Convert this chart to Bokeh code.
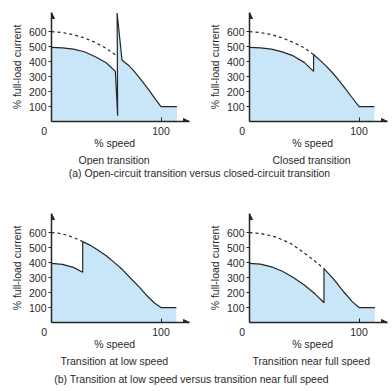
from bokeh.plotting import figure
from bokeh.layouts import column, row
from bokeh.models import Range1d, FixedTicker, Arrow, NormalHead, Title
from bokeh.embed import file_html
from bokeh.resources import INLINE
from bokeh.core.properties import value

# ---------------- data ----------------
Y_TICKS = [100, 200, 300, 400, 500, 600]
X_TICKS = [0, 100]
X_TICK_LABELS = ["0", "100"]
X_LABEL = "% speed"
Y_LABEL = "% full-load current"

SUBTITLES = ["Open transition", "Closed transition",
             "Transition at low speed", "Transition near full speed"]
CAPTION_A = "(a) Open-circuit transition versus closed-circuit transition"
CAPTION_B = "(b) Transition at low speed versus transition near full speed"

# (a) open transition
open_speed = [0, 10, 20, 30, 40, 50, 58.3, 60.4, 59.9, 64.4, 70, 75, 80, 85, 90, 95, 100, 114.5]
open_current = [495, 492, 483, 466, 432, 392, 335, 38, 725, 409, 378, 340, 295, 248, 200, 148, 100, 100]
open_dash_speed = [0, 10, 20, 30, 40, 50, 59.2]
open_dash_current = [600, 594, 580, 558, 528, 488, 441]

# (a) closed transition
closed_speed = [0, 10, 20, 30, 40, 50, 58.5, 58.5, 65, 70, 76, 82, 88, 94, 100, 114]
closed_current = [495, 492, 483, 465, 438, 395, 335, 447, 405, 370, 324, 272, 214, 157, 100, 100]
closed_dash_speed = [0, 10, 20, 30, 40, 50, 58.5]
closed_dash_current = [600, 594, 580, 558, 528, 492, 447]

# (b) transition at low speed
low_speed = [0, 10, 20, 28.5, 28.5, 35, 41.6, 50, 57, 65, 72, 80, 87, 94, 100, 114]
low_current = [395, 388, 368, 335, 540, 517, 488, 446, 403, 352, 297, 238, 180, 130, 100, 100]
low_dash_speed = [0, 7, 14.3, 21, 28.5]
low_dash_current = [600, 596, 583, 565, 540]

# (b) transition near full speed
full_speed = [0, 10, 20, 30, 40, 50, 60, 68, 68, 77.2, 86.4, 94, 100, 114.5]
full_current = [395, 390, 372, 342, 300, 250, 190, 132, 360, 286, 202, 138, 100, 100]
full_dash_speed = [0, 10, 23.8, 37.6, 49.7, 58, 68]
full_dash_current = [600, 595, 572, 528, 466, 420, 360]

# ---------------- style ----------------
FONT = "Liberation Sans"
FS = "10.5px"
TXT = "#2a2a2a"
INK = "#262626"
FILL = "#c8e6f7"
X_END = 126
Y_END = 728
NBSP = "\u00a0"
SUB_OFFSETS = [27, 23, 9, 3]          # left offset (px) of each sub-caption from the frame
ORIGIN_PAD = 5                        # pads the origin label so that it sits left of the axis
XLABEL_PAD = 4                        # shifts "% speed" slightly left of frame centre


def panel(width, left, right, height, top, bottom, sx, sy, dx, dy, subtitle, sub_off):
    p = figure(width=width, height=height,
               x_range=Range1d(0, X_END), y_range=Range1d(0, Y_END),
               toolbar_location=None, output_backend="svg",
               min_border_left=left, min_border_right=right,
               min_border_top=top, min_border_bottom=bottom)
    p.outline_line_color = None
    p.grid.visible = False
    p.background_fill_color = "white"
    p.border_fill_color = "white"

    p.patch(sx + [sx[-1], sx[0]], sy + [0, 0], fill_color=FILL, line_color=None)
    p.line(dx, dy, line_color=INK, line_width=1.2, line_dash="3 3")
    p.line(sx, sy, line_color=INK, line_width=1.2)

    ax = p.xaxis[0]
    ax.ticker = FixedTicker(ticks=X_TICKS)
    labels = {}
    for t, s in zip(X_TICKS, X_TICK_LABELS):
        labels[t] = s + NBSP * ORIGIN_PAD if t == 0 else s
    ax.major_label_overrides = labels
    ax.axis_line_color = INK
    ax.axis_line_width = 1.5
    ax.major_tick_in = 4
    ax.major_tick_out = 0
    ax.major_tick_line_color = INK
    ax.minor_tick_line_color = None
    ax.major_label_standoff = 3
    ax.major_label_text_font = FONT
    ax.major_label_text_font_size = FS
    ax.major_label_text_color = TXT
    ax.axis_label = X_LABEL + NBSP * XLABEL_PAD
    ax.axis_label_standoff = -3
    ax.axis_label_text_font = FONT
    ax.axis_label_text_font_size = FS
    ax.axis_label_text_font_style = "normal"
    ax.axis_label_text_color = TXT

    ay = p.yaxis[0]
    ay.ticker = FixedTicker(ticks=Y_TICKS)
    ay.axis_line_color = INK
    ay.axis_line_width = 1.5
    ay.major_tick_in = 0
    ay.major_tick_out = 3
    ay.major_tick_line_color = INK
    ay.minor_tick_line_color = None
    ay.major_label_standoff = 2
    ay.major_label_text_font = FONT
    ay.major_label_text_font_size = FS
    ay.major_label_text_color = TXT
    ay.axis_label = Y_LABEL
    ay.axis_label_standoff = 3
    ay.axis_label_text_font = FONT
    ay.axis_label_text_font_size = FS
    ay.axis_label_text_font_style = "normal"
    ay.axis_label_text_color = TXT

    head = dict(size=6, fill_color=INK, line_color=INK, line_width=1)
    p.add_layout(Arrow(end=NormalHead(**head), x_start=0, y_start=0, x_end=0, y_end=Y_END,
                       line_alpha=0))
    p.add_layout(Arrow(end=NormalHead(**head), x_start=0, y_start=0, x_end=X_END, y_end=0,
                       line_alpha=0))

    p.add_layout(Title(text=subtitle, align="left", offset=sub_off, standoff=0,
                       text_font=FONT, text_font_size=FS, text_font_style="normal",
                       text_color=TXT), "below")
    return p


def caption(text, height, xoff):
    c = figure(width=392, height=height, x_range=Range1d(0, 1), y_range=Range1d(0, 1),
               toolbar_location=None, output_backend="svg", min_border=0,
               x_axis_location=None, y_axis_location=None)
    c.outline_line_color = None
    c.grid.visible = False
    c.text(x=[0.5], y=[0.5], text=[text], x_offset=xoff, text_align="center",
           text_baseline="middle", text_font=value(FONT), text_font_size=FS, text_color=TXT)
    return c


p1 = panel(196, 51, 7, 165, 12, 39, open_speed, open_current,
           open_dash_speed, open_dash_current, SUBTITLES[0], SUB_OFFSETS[0])
p2 = panel(196, 53, 5, 165, 12, 39, closed_speed, closed_current,
           closed_dash_speed, closed_dash_current, SUBTITLES[1], SUB_OFFSETS[1])
p3 = panel(196, 51, 7, 187, 34, 39, low_speed, low_current,
           low_dash_speed, low_dash_current, SUBTITLES[2], SUB_OFFSETS[2])
p4 = panel(196, 53, 5, 187, 34, 39, full_speed, full_current,
           full_dash_speed, full_dash_current, SUBTITLES[3], SUB_OFFSETS[3])

ca = caption(CAPTION_A, 14, 3)
cb = caption(CAPTION_B, 24, -5)

layout = column(row(p1, p2), ca, row(p3, p4), cb)

open("out.html", "w").write(file_html(layout, INLINE))
